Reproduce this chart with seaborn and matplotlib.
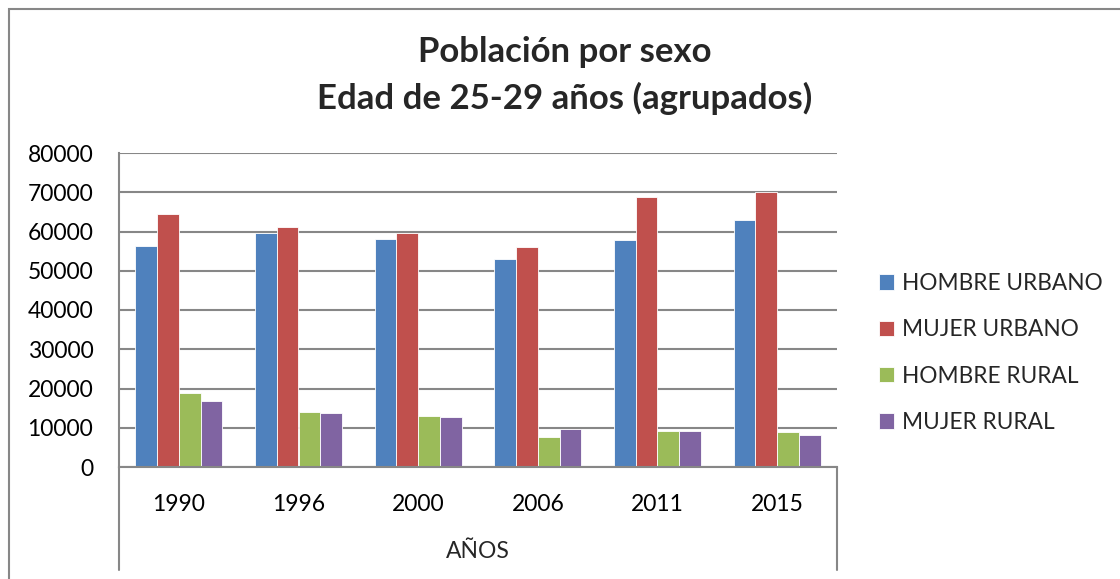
import matplotlib
matplotlib.use("Agg")
import matplotlib.pyplot as plt
from matplotlib.patches import Rectangle
import pandas as pd
import seaborn as sns

years = ["1990", "1996", "2000", "2006", "2011", "2015"]
hombre_urbano = [56200, 59500, 58200, 53100, 57900, 63000]
mujer_urbano = [64500, 61200, 59500, 56000, 68700, 70100]
hombre_rural = [18900, 14000, 13100, 7600, 9200, 8800]
mujer_rural = [16800, 13700, 12700, 9800, 9100, 8100]
series = ["HOMBRE URBANO", "MUJER URBANO", "HOMBRE RURAL", "MUJER RURAL"]

colors = {
    "HOMBRE URBANO": "#4F81BD",
    "MUJER URBANO": "#C0504D",
    "HOMBRE RURAL": "#9BBB59",
    "MUJER RURAL": "#8064A2",
}

df = pd.DataFrame({
    "year": years * 4,
    "value": hombre_urbano + mujer_urbano + hombre_rural + mujer_rural,
    "serie": [s for s in series for _ in years],
})

sns.set_style("white")
plt.rcParams["font.family"] = ["Lato", "DejaVu Sans"]

fig = plt.figure(figsize=(11.2, 5.79), dpi=100)
ax = fig.add_axes([119 / 1120, 1 - 467 / 579, (837 - 119) / 1120, (467 - 153) / 579])

sns.barplot(data=df, x="year", y="value", hue="serie", order=years,
            hue_order=series, palette=colors, width=0.727, saturation=1,
            edgecolor="white", linewidth=0.6, ax=ax)

ax.set_ylim(0, 80000)
ax.set_yticks(range(0, 80001, 10000))
ax.set_xlim(-0.5, 5.5)
ax.grid(axis="y", color="#878787", linewidth=1.5)
ax.set_axisbelow(True)
for side in ["top", "right"]:
    ax.spines[side].set_visible(False)
for side in ["left", "bottom"]:
    ax.spines[side].set_color("#878787")
    ax.spines[side].set_linewidth(1.5)
ax.tick_params(axis="both", length=0, labelsize=16.5, colors="black")
ax.tick_params(axis="y", pad=18.5)
ax.tick_params(axis="x", pad=19.5)
ax.set_xlabel("AÑOS", fontsize=16.5, labelpad=19)
ax.set_ylabel("")

# category axis box lines
ax.plot([0, 0], [0, -0.328], transform=ax.transAxes, color="#878787", lw=1.5, clip_on=False)
ax.plot([1, 1], [0, -0.328], transform=ax.transAxes, color="#878787", lw=1.5, clip_on=False)

ax.legend(loc="center left", bbox_to_anchor=(879 / 1120, 1 - 353 / 579),
          bbox_transform=fig.transFigure, frameon=False, fontsize=16.3,
          handlelength=0.67, handleheight=0.67, handletextpad=0.35,
          labelspacing=1.12, borderpad=0, borderaxespad=0)

fig.text(565 / 1120, 1 - 52 / 579, "Población por sexo", ha="center", va="center",
         fontsize=25, fontweight="bold")
fig.text(565 / 1120, 1 - 98 / 579, "Edad de 25-29 años (agrupados)", ha="center",
         va="center", fontsize=25, fontweight="bold")

fig.patches.append(Rectangle((9 / 1120, -0.1), 1.2, 1 - 9 / 579 + 0.1,
                             transform=fig.transFigure, fill=False,
                             edgecolor="#878787", linewidth=1.5))

fig.savefig("out.png", dpi=100)
